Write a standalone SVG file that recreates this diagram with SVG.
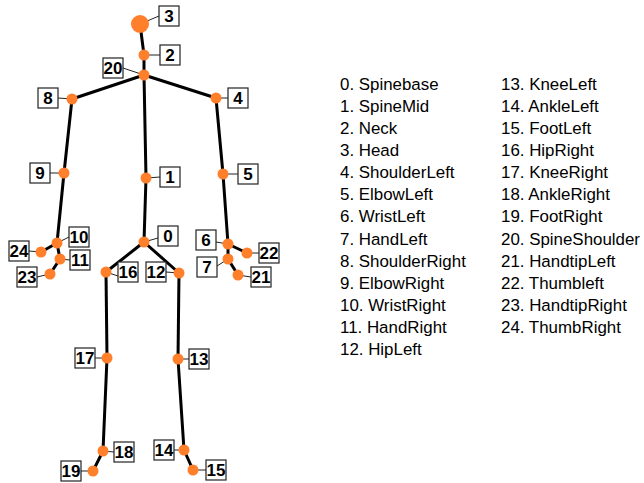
<svg xmlns="http://www.w3.org/2000/svg" width="644" height="483" viewBox="0 0 644 483">
<style>
.bone{stroke:#000;stroke-width:3;fill:none;stroke-linecap:round}
.j{fill:#ff7f2a}
.ld{stroke:#222;stroke-width:1}
.bx{fill:#fff;stroke:#222;stroke-width:1.2}
.n{font-family:"Liberation Sans",Arial,sans-serif;font-weight:bold;font-size:17px;text-anchor:middle;fill:#000}
.lg{font-family:"Liberation Sans",Arial,sans-serif;font-size:16.9px;fill:#000}
</style>
<rect width="644" height="483" fill="#fff"/>
<g id="connectors">
<line class="bone" x1="140" y1="24" x2="144" y2="55"/>
<line class="bone" x1="144" y1="55" x2="144" y2="75"/>
<line class="bone" x1="144" y1="75" x2="72" y2="99"/>
<line class="bone" x1="144" y1="75" x2="216" y2="98"/>
<line class="bone" x1="144" y1="75" x2="146" y2="178"/>
<line class="bone" x1="146" y1="178" x2="144" y2="242"/>
<line class="bone" x1="72" y1="99" x2="64" y2="173"/>
<line class="bone" x1="64" y1="173" x2="57" y2="243"/>
<line class="bone" x1="57" y1="243" x2="41" y2="252"/>
<line class="bone" x1="57" y1="243" x2="60" y2="259"/>
<line class="bone" x1="60" y1="259" x2="50" y2="274"/>
<line class="bone" x1="216" y1="98" x2="223" y2="174"/>
<line class="bone" x1="223" y1="174" x2="228" y2="244"/>
<line class="bone" x1="228" y1="244" x2="247" y2="253"/>
<line class="bone" x1="228" y1="244" x2="228" y2="259"/>
<line class="bone" x1="228" y1="259" x2="238" y2="275"/>
<line class="bone" x1="144" y1="242" x2="106" y2="272"/>
<line class="bone" x1="144" y1="242" x2="179" y2="273"/>
<line class="bone" x1="106" y1="272" x2="107" y2="358"/>
<line class="bone" x1="107" y1="358" x2="103" y2="451"/>
<line class="bone" x1="103" y1="451" x2="93" y2="471"/>
<line class="bone" x1="179" y1="273" x2="178" y2="359"/>
<line class="bone" x1="178" y1="359" x2="184" y2="450"/>
<line class="bone" x1="184" y1="450" x2="193" y2="470"/>
</g>
<g id="node0"><line class="ld" x1="144" y1="242" x2="158" y2="238"/><circle class="j" cx="144" cy="242" r="5.5"/><rect class="bx" x="158" y="226" width="20" height="20"/><text class="n" x="168" y="242">0</text></g>
<g id="node1"><line class="ld" x1="146" y1="178" x2="160" y2="177"/><circle class="j" cx="146" cy="178" r="5.5"/><rect class="bx" x="160" y="167" width="20" height="20"/><text class="n" x="170" y="183">1</text></g>
<g id="node2"><line class="ld" x1="144" y1="55" x2="160" y2="55"/><circle class="j" cx="144" cy="55" r="5.5"/><rect class="bx" x="160" y="45" width="20" height="20"/><text class="n" x="170" y="61">2</text></g>
<g id="node3"><line class="ld" x1="140" y1="24" x2="159" y2="16"/><circle class="j" cx="140" cy="24" r="9"/><rect class="bx" x="159" y="6" width="20" height="20"/><text class="n" x="169" y="22">3</text></g>
<g id="node4"><line class="ld" x1="216" y1="98" x2="228" y2="98"/><circle class="j" cx="216" cy="98" r="5.5"/><rect class="bx" x="228" y="88" width="20" height="20"/><text class="n" x="238" y="104">4</text></g>
<g id="node5"><line class="ld" x1="223" y1="174" x2="238" y2="174"/><circle class="j" cx="223" cy="174" r="5.5"/><rect class="bx" x="238" y="164" width="20" height="20"/><text class="n" x="248" y="180">5</text></g>
<g id="node6"><line class="ld" x1="228" y1="244" x2="216" y2="242"/><circle class="j" cx="228" cy="244" r="5.5"/><rect class="bx" x="196" y="230" width="20" height="20"/><text class="n" x="206" y="246">6</text></g>
<g id="node7"><line class="ld" x1="228" y1="259" x2="217" y2="266"/><circle class="j" cx="228" cy="259" r="5.5"/><rect class="bx" x="197" y="257" width="20" height="20"/><text class="n" x="207" y="273">7</text></g>
<g id="node8"><line class="ld" x1="72" y1="99" x2="58" y2="98"/><circle class="j" cx="72" cy="99" r="5.5"/><rect class="bx" x="38" y="88" width="20" height="20"/><text class="n" x="48" y="104">8</text></g>
<g id="node9"><line class="ld" x1="64" y1="173" x2="50" y2="173"/><circle class="j" cx="64" cy="173" r="5.5"/><rect class="bx" x="30" y="163" width="20" height="20"/><text class="n" x="40" y="179">9</text></g>
<g id="node10"><line class="ld" x1="57" y1="243" x2="69" y2="237"/><circle class="j" cx="57" cy="243" r="5.5"/><rect class="bx" x="69" y="227" width="20" height="20"/><text class="n" x="79" y="243">10</text></g>
<g id="node11"><line class="ld" x1="60" y1="259" x2="70" y2="260"/><circle class="j" cx="60" cy="259" r="5.5"/><rect class="bx" x="70" y="250" width="20" height="20"/><text class="n" x="80" y="266">11</text></g>
<g id="node12"><line class="ld" x1="179" y1="273" x2="166" y2="272"/><circle class="j" cx="179" cy="273" r="5.5"/><rect class="bx" x="146" y="262" width="20" height="20"/><text class="n" x="156" y="278">12</text></g>
<g id="node13"><line class="ld" x1="178" y1="359" x2="189" y2="359"/><circle class="j" cx="178" cy="359" r="5.5"/><rect class="bx" x="189" y="349" width="20" height="20"/><text class="n" x="199" y="365">13</text></g>
<g id="node14"><line class="ld" x1="184" y1="450" x2="174" y2="450"/><circle class="j" cx="184" cy="450" r="5.5"/><rect class="bx" x="154" y="440" width="20" height="20"/><text class="n" x="164" y="456">14</text></g>
<g id="node15"><line class="ld" x1="193" y1="470" x2="206" y2="470"/><circle class="j" cx="193" cy="470" r="5.5"/><rect class="bx" x="206" y="460" width="20" height="20"/><text class="n" x="216" y="476">15</text></g>
<g id="node16"><line class="ld" x1="106" y1="272" x2="118" y2="276"/><circle class="j" cx="106" cy="272" r="5.5"/><rect class="bx" x="118" y="262" width="20" height="20"/><text class="n" x="128" y="278">16</text></g>
<g id="node17"><line class="ld" x1="107" y1="358" x2="95" y2="358"/><circle class="j" cx="107" cy="358" r="5.5"/><rect class="bx" x="75" y="348" width="20" height="20"/><text class="n" x="85" y="364">17</text></g>
<g id="node18"><line class="ld" x1="103" y1="451" x2="114" y2="452"/><circle class="j" cx="103" cy="451" r="5.5"/><rect class="bx" x="114" y="442" width="20" height="20"/><text class="n" x="124" y="458">18</text></g>
<g id="node19"><line class="ld" x1="93" y1="471" x2="81" y2="471"/><circle class="j" cx="93" cy="471" r="5.5"/><rect class="bx" x="61" y="461" width="20" height="20"/><text class="n" x="71" y="477">19</text></g>
<g id="node20"><line class="ld" x1="144" y1="75" x2="123" y2="68"/><circle class="j" cx="144" cy="75" r="5.5"/><rect class="bx" x="103" y="58" width="20" height="20"/><text class="n" x="113" y="74">20</text></g>
<g id="node21"><line class="ld" x1="238" y1="275" x2="251" y2="277"/><circle class="j" cx="238" cy="275" r="5.5"/><rect class="bx" x="251" y="267" width="20" height="20"/><text class="n" x="261" y="283">21</text></g>
<g id="node22"><line class="ld" x1="247" y1="253" x2="259" y2="253"/><circle class="j" cx="247" cy="253" r="5.5"/><rect class="bx" x="259" y="243" width="20" height="20"/><text class="n" x="269" y="259">22</text></g>
<g id="node23"><line class="ld" x1="50" y1="274" x2="37" y2="277"/><circle class="j" cx="50" cy="274" r="5.5"/><rect class="bx" x="17" y="267" width="20" height="20"/><text class="n" x="27" y="283">23</text></g>
<g id="node24"><line class="ld" x1="41" y1="252" x2="29" y2="251"/><circle class="j" cx="41" cy="252" r="5.5"/><rect class="bx" x="9" y="241" width="20" height="20"/><text class="n" x="19" y="257">24</text></g>
<g id="legend" class="lg">
<text x="340" y="90">0. Spinebase</text>
<text x="340" y="112.1">1. SpineMid</text>
<text x="340" y="134.1">2. Neck</text>
<text x="340" y="156.2">3. Head</text>
<text x="340" y="178.3">4. ShoulderLeft</text>
<text x="340" y="200.4">5. ElbowLeft</text>
<text x="340" y="222.4">6. WristLeft</text>
<text x="340" y="244.5">7. HandLeft</text>
<text x="340" y="266.6">8. ShoulderRight</text>
<text x="340" y="288.6">9. ElbowRight</text>
<text x="340" y="310.7">10. WristRight</text>
<text x="340" y="332.8">11. HandRight</text>
<text x="340" y="354.8">12. HipLeft</text>
<text x="501" y="90">13. KneeLeft</text>
<text x="501" y="112.1">14. AnkleLeft</text>
<text x="501" y="134.1">15. FootLeft</text>
<text x="501" y="156.2">16. HipRight</text>
<text x="501" y="178.3">17. KneeRight</text>
<text x="501" y="200.4">18. AnkleRight</text>
<text x="501" y="222.4">19. FootRight</text>
<text x="501" y="244.5">20. SpineShoulder</text>
<text x="501" y="266.6">21. HandtipLeft</text>
<text x="501" y="288.6">22. Thumbleft</text>
<text x="501" y="310.7">23. HandtipRight</text>
<text x="501" y="332.8">24. ThumbRight</text>
</g>
</svg>
